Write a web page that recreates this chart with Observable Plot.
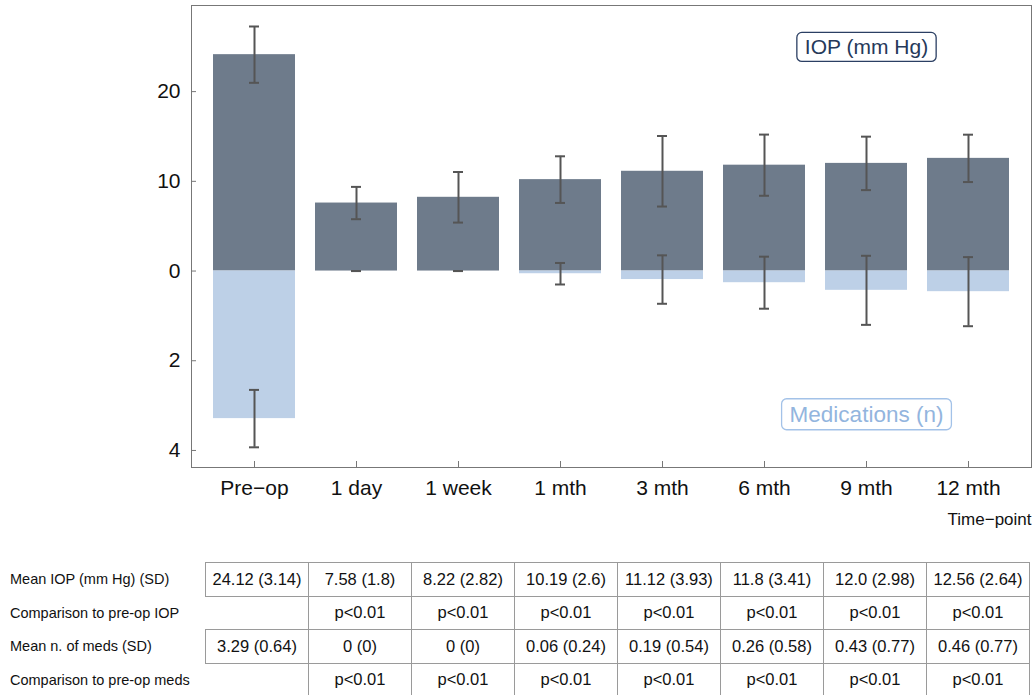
<!DOCTYPE html>
<html><head><meta charset="utf-8">
<script src="https://cdn.jsdelivr.net/npm/d3@7"></script>
<script src="https://cdn.jsdelivr.net/npm/@observablehq/plot@0.6"></script>
<style>
body{margin:0;background:#fff;font-family:"Liberation Sans",Arial,sans-serif;}
#chart svg{display:block}
table{border-collapse:collapse;margin-top:17px;table-layout:fixed;width:1030px}
td{height:32.5px;padding:0;font-size:16.5px;text-align:center;border:1px solid #9a9a9a;color:#111;white-space:nowrap}
td.lab{border:none;text-align:left;padding-left:10px;font-size:14.5px;width:195px}
td.blank{border-left:none;}
</style></head><body>
<div id="chart"></div>
<table id="tbl"></table>
<script>
const timepoints = ["Pre\u2212op","1 day","1 week","1 mth","3 mth","6 mth","9 mth","12 mth"];
const iopMeanText = ["24.12","7.58","8.22","10.19","11.12","11.8","12.0","12.56"];
const iopSDText   = ["3.14","1.8","2.82","2.6","3.93","3.41","2.98","2.64"];
const medsMeanText = ["3.29","0","0","0.06","0.19","0.26","0.43","0.46"];
const medsSDText   = ["0.64","0","0","0.24","0.54","0.58","0.77","0.77"];
const iopP  = ["","p<0.01","p<0.01","p<0.01","p<0.01","p<0.01","p<0.01","p<0.01"];
const medsP = ["","p<0.01","p<0.01","p<0.01","p<0.01","p<0.01","p<0.01","p<0.01"];
const rowLabels = ["Mean IOP (mm Hg) (SD)","Comparison to pre-op IOP","Mean n. of meds (SD)","Comparison to pre-op meds"];
const yTicks = [-20,-10,0,10,20];
const annotations = [
  {t:"9 mth", y:24.9, s:"IOP (mm Hg)", fill:"#26395a", stroke:"#2b3f63", size:21},
  {t:"9 mth", y:-16.0, s:"Medications (n)", fill:"#93b5de", stroke:"#a3c2e8", size:22.5}
];
const K = 5; // medications drawn at 5x on the shared axis

const rows = timepoints.map((t,i)=>({
  t, iop:+iopMeanText[i], iopSD:+iopSDText[i], meds:+medsMeanText[i], medsSD:+medsSDText[i]
}));
const ebColor = "#555";

const chart = Plot.plot({
  width: 1032, height: 545,
  marginLeft: 191, marginRight: 1, marginTop: 5, marginBottom: 78,
  style: {fontFamily: '"Liberation Sans", Arial, sans-serif', fontSize: "21px", color: "#111", background: "#fff", overflow: "visible"},
  x: {domain: timepoints, paddingInner: 0.2, paddingOuter: 0.19, label: null},
  y: {domain: [-21.9, 29.6], label: null},
  marks: [
    Plot.barY(rows, {x:"t", y:"iop", fill:"#6e7b8b"}),
    Plot.barY(rows, {x:"t", y:d=>-K*d.meds, fill:"#bdd0e7"}),
    Plot.ruleX(rows, {x:"t", y1:d=>d.iop-d.iopSD, y2:d=>d.iop+d.iopSD, stroke:ebColor, strokeWidth:2}),
    Plot.tickY(rows, {x:"t", y:d=>d.iop-d.iopSD, stroke:ebColor, strokeWidth:2, insetLeft:36, insetRight:36}),
    Plot.tickY(rows, {x:"t", y:d=>d.iop+d.iopSD, stroke:ebColor, strokeWidth:2, insetLeft:36, insetRight:36}),
    Plot.ruleX(rows, {x:"t", y1:d=>-K*(d.meds-d.medsSD), y2:d=>-K*(d.meds+d.medsSD), stroke:ebColor, strokeWidth:2}),
    Plot.tickY(rows, {x:"t", y:d=>-K*(d.meds-d.medsSD), stroke:ebColor, strokeWidth:2, insetLeft:36, insetRight:36}),
    Plot.tickY(rows, {x:"t", y:d=>-K*(d.meds+d.medsSD), stroke:ebColor, strokeWidth:2, insetLeft:36, insetRight:36}),
    Plot.frame({stroke:"#777"}),
    Plot.axisY({ticks: yTicks, tickFormat: d => d < 0 ? String(-d/K) : String(d), tickSize: -5, tickPadding: 16, stroke:"#777", label: null}),
    Plot.axisX({tickSize: -6, tickPadding: 19, stroke:"#777", label: null}),
    Plot.text(["Time\u2212point"], {frameAnchor:"bottom-right", dy: 57, fontSize: 17, textAnchor:"end"}),
    Plot.text(annotations, {x:"t", y:"y", text:"s", fill:"fill", fontSize:"size"})
  ]
});
document.getElementById("chart").appendChild(chart);

// rounded boxes behind annotation labels
chart.querySelectorAll("text").forEach(el => {
  const a = annotations.find(a => a.s === el.textContent);
  if (!a) return;
  const b = el.getBBox();
  const r = document.createElementNS("http://www.w3.org/2000/svg","rect");
  r.setAttribute("x", b.x - 8); r.setAttribute("y", b.y - 3);
  r.setAttribute("width", b.width + 16); r.setAttribute("height", b.height + 6);
  r.setAttribute("rx", 5); r.setAttribute("fill", "#fff");
  r.setAttribute("stroke", a.stroke); r.setAttribute("stroke-width", 1.3);
  if (el.getAttribute("transform")) r.setAttribute("transform", el.getAttribute("transform"));
  el.parentNode.insertBefore(r, el);
});

// table
const tbl = document.getElementById("tbl");
const tableRows = [
  iopMeanText.map((m,i)=>`${m} (${iopSDText[i]})`),
  iopP,
  medsMeanText.map((m,i)=>`${m} (${medsSDText[i]})`),
  medsP
];
tableRows.forEach((cells, r) => {
  const tr = document.createElement("tr");
  const lab = document.createElement("td"); lab.className = "lab"; lab.textContent = rowLabels[r]; tr.appendChild(lab);
  cells.forEach((c, i) => {
    const td = document.createElement("td");
    td.textContent = c;
    if (c === "" ) td.className = "blank";
    tr.appendChild(td);
  });
  tbl.appendChild(tr);
});
</script>
</body></html>
